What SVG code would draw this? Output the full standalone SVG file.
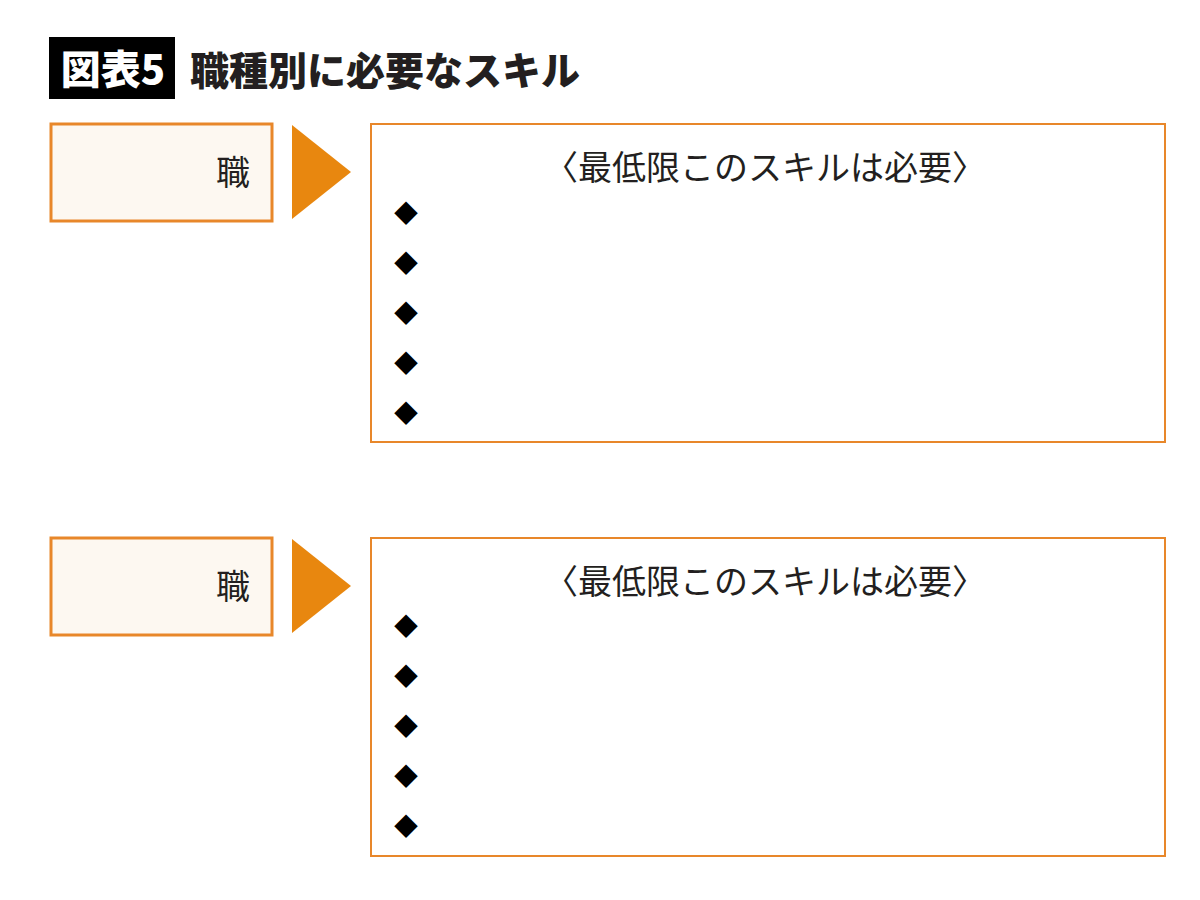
<svg xmlns="http://www.w3.org/2000/svg" width="1200" height="900" viewBox="0 0 1200 900">
<style>
.jp{font-family:"Noto Sans CJK JP","Noto Sans CJK SC",sans-serif;}
.title{font-size:39px;font-weight:900;fill:#231f20;}
.badge{font-size:40px;font-weight:900;fill:#ffffff;}
.lbox{fill:#fdf8f1;stroke:#e8872a;stroke-width:3;}
.rbox{fill:#ffffff;stroke:#e8872a;stroke-width:2;}
.arrow{fill:#e8870f;}
.job{font-size:34px;fill:#231f20;text-anchor:middle;}
.head{font-size:34px;fill:#231f20;text-anchor:middle;}
.bul{font-size:24px;fill:#000000;text-anchor:middle;}
</style>
<rect x="0" y="0" width="1200" height="900" fill="#ffffff"/>
<g id="title">
<rect x="49" y="37" width="126" height="62" fill="#000000"/>
<text class="jp badge" x="113" y="84" text-anchor="middle">図表5</text>
<text class="jp title" x="190" y="85">職種別に必要なスキル</text>
</g>
<g id="job1">
<rect class="lbox" x="51" y="124" width="221" height="97"/>
<text class="jp job" x="233" y="185">職</text>
</g>
<g id="skills1">
<rect class="rbox" x="371" y="124" width="794" height="318"/>
<text class="jp head" x="765" y="180">〈最低限このスキルは必要〉</text>
<text class="jp bul" x="406" y="222">◆</text>
<text class="jp bul" x="406" y="272">◆</text>
<text class="jp bul" x="406" y="322">◆</text>
<text class="jp bul" x="406" y="372">◆</text>
<text class="jp bul" x="406" y="422">◆</text>
</g>
<g id="job2">
<rect class="lbox" x="51" y="538" width="221" height="97"/>
<text class="jp job" x="233" y="599">職</text>
</g>
<g id="skills2">
<rect class="rbox" x="371" y="538" width="794" height="318"/>
<text class="jp head" x="765" y="594">〈最低限このスキルは必要〉</text>
<text class="jp bul" x="406" y="635">◆</text>
<text class="jp bul" x="406" y="685">◆</text>
<text class="jp bul" x="406" y="735">◆</text>
<text class="jp bul" x="406" y="785">◆</text>
<text class="jp bul" x="406" y="835">◆</text>
</g>
<g id="connectors">
<polygon class="arrow" points="292,125 351,172 292,219"/>
<polygon class="arrow" points="292,539 351,586 292,633"/>
</g>
</svg>
